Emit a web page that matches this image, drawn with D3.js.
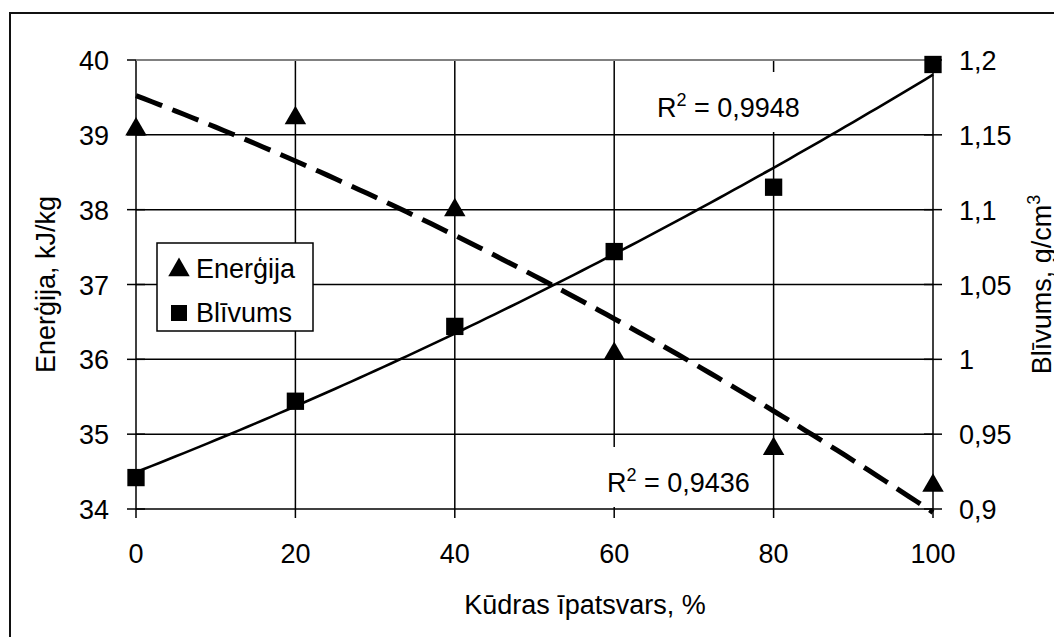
<!DOCTYPE html>
<html>
<head>
<meta charset="utf-8">
<script src="https://cdn.jsdelivr.net/npm/d3@7"></script>
<style>
  body { margin: 0; background: #fff; }
  text { font-family: "Liberation Sans", Arial, sans-serif; fill: #000; }
</style>
</head>
<body>
<script>
// data
var share = [0, 20, 40, 60, 80, 100];              // Kūdras īpatsvars, %
var energy = [39.1, 39.25, 38.02, 36.1, 34.83, 34.34];   // kJ/kg
var density = [0.921, 0.972, 1.022, 1.072, 1.115, 1.197]; // g/cm3

var xTicks = [0, 20, 40, 60, 80, 100];
var leftTicks = [34, 35, 36, 37, 38, 39, 40];
var rightTicks = [0.9, 0.95, 1, 1.05, 1.1, 1.15, 1.2];
var rightTickLabels = ["0,9", "0,95", "1", "1,05", "1,1", "1,15", "1,2"];
var r2Energy = "0,9436";
var r2Density = "0,9948";

var W = 1054, H = 637;
var fs = 27;

var svg = d3.select("body").append("svg")
  .attr("width", W).attr("height", H)
  .attr("xmlns", "http://www.w3.org/2000/svg");

var x = d3.scaleLinear().domain([0, 100]).range([136, 933]);
var yL = d3.scaleLinear().domain([34, 40]).range([509, 60]);
var yR = d3.scaleLinear().domain([0.9, 1.2]).range([509, 60]);

// outer chart border (runs off right/bottom edge)
svg.append("rect")
  .attr("x", 10).attr("y", 13).attr("width", W + 20).attr("height", H + 20)
  .attr("fill", "#fff").attr("stroke", "#111").attr("stroke-width", 2);

// gridlines
var g = svg.append("g").attr("stroke", "#000").attr("stroke-width", 1.5);
leftTicks.slice(0, -1).forEach(function(v) {
  g.append("line").attr("x1", x(0)).attr("x2", x(100)).attr("y1", yL(v)).attr("y2", yL(v));
});
xTicks.forEach(function(v) {
  g.append("line").attr("x1", x(v)).attr("x2", x(v)).attr("y1", yL(40)).attr("y2", yL(34) + 9);
});
// top edge of plot area is grey
svg.append("line").attr("x1", x(0)).attr("x2", x(100)).attr("y1", yL(40)).attr("y2", yL(40))
  .attr("stroke", "#808080").attr("stroke-width", 2);
// axis tick marks crossing the y axes
leftTicks.forEach(function(v) {
  g.append("line").attr("x1", x(0) - 9).attr("x2", x(0) + 9).attr("y1", yL(v)).attr("y2", yL(v));
});
rightTicks.forEach(function(v) {
  g.append("line").attr("x1", x(100) - 9).attr("x2", x(100) + 9).attr("y1", yR(v)).attr("y2", yR(v));
});

// 2nd order polynomial trend (least squares)
function polyFit(xs, ys) {
  var n = xs.length, s = [0, 0, 0, 0, 0], t = [0, 0, 0];
  for (var i = 0; i < n; i++) {
    var p = 1;
    for (var k = 0; k < 5; k++) { s[k] += p; if (k < 3) t[k] += p * ys[i]; p *= xs[i]; }
  }
  var A = [[s[0], s[1], s[2], t[0]], [s[1], s[2], s[3], t[1]], [s[2], s[3], s[4], t[2]]];
  for (var c = 0; c < 3; c++) {
    for (var r = c + 1; r < 3; r++) {
      var f = A[r][c] / A[c][c];
      for (var j = c; j < 4; j++) A[r][j] -= f * A[c][j];
    }
  }
  var b = [0, 0, 0];
  for (var r2 = 2; r2 >= 0; r2--) {
    var sum = A[r2][3];
    for (var j2 = r2 + 1; j2 < 3; j2++) sum -= A[r2][j2] * b[j2];
    b[r2] = sum / A[r2][r2];
  }
  return function(v) { return b[0] + b[1] * v + b[2] * v * v; };
}
var fitE = polyFit(share, energy);
var fitD = polyFit(share, density);
var xs = d3.range(0, 100.01, 1);

svg.append("path")
  .attr("d", d3.line().x(function(d) { return x(d); }).y(function(d) { return yR(fitD(d)); })(xs))
  .attr("fill", "none").attr("stroke", "#000").attr("stroke-width", 2.6);
svg.append("path")
  .attr("d", d3.line().x(function(d) { return x(d); }).y(function(d) { return yL(fitE(d)); })(xs))
  .attr("fill", "none").attr("stroke", "#000").attr("stroke-width", 5)
  .attr("stroke-dasharray", "28,11");

// markers
var tri = d3.symbol().type(d3.symbolTriangle).size(200);
var sq = d3.symbol().type(d3.symbolSquare).size(300);
svg.selectAll(".e").data(share).enter().append("path")
  .attr("d", tri)
  .attr("transform", function(d, i) { return "translate(" + x(d) + "," + (yL(energy[i]) + 2) + ")"; })
  .attr("fill", "#000");
svg.selectAll(".d").data(share).enter().append("path")
  .attr("d", sq)
  .attr("transform", function(d, i) { return "translate(" + x(d) + "," + yR(density[i]) + ")"; })
  .attr("fill", "#000");

// tick labels
svg.selectAll(".lt").data(leftTicks).enter().append("text")
  .attr("x", 109).attr("y", function(d) { return yL(d) + 10; })
  .attr("text-anchor", "end").attr("font-size", fs).text(function(d) { return d; });
svg.selectAll(".rt").data(rightTicks).enter().append("text")
  .attr("x", 959).attr("y", function(d) { return yR(d) + 10; })
  .attr("font-size", fs).text(function(d, i) { return rightTickLabels[i]; });
svg.selectAll(".xt").data(xTicks).enter().append("text")
  .attr("x", function(d) { return x(d); }).attr("y", 563)
  .attr("text-anchor", "middle").attr("font-size", fs).text(function(d) { return d; });

// axis titles
svg.append("text").attr("x", 585).attr("y", 614).attr("text-anchor", "middle")
  .attr("font-size", fs).text("Kūdras īpatsvars, %");
svg.append("text").attr("transform", "translate(55,284.5) rotate(-90)")
  .attr("text-anchor", "middle").attr("font-size", fs).text("Enerģija, kJ/kg");
var rt = svg.append("text").attr("transform", "translate(1051,284.5) rotate(-90)")
  .attr("text-anchor", "middle").attr("font-size", fs);
rt.append("tspan").text("Blīvums, g/cm");
rt.append("tspan").attr("font-size", 18).attr("dy", -11).text("3");

// R² labels with white boxes
function r2Label(xl, yc, val) {
  svg.append("rect").attr("x", xl - 6).attr("y", yc - 35).attr("width", 162).attr("height", 60)
    .attr("fill", "#fff");
  var t = svg.append("text").attr("x", xl).attr("y", yc + 10).attr("font-size", fs);
  t.append("tspan").text("R");
  t.append("tspan").attr("font-size", 18).attr("dy", -11).text("2");
  t.append("tspan").attr("dy", 11).text(" = " + val);
}
r2Label(657, 107, r2Density);
r2Label(607, 482, r2Energy);

// legend
var lg = svg.append("g");
lg.append("rect").attr("x", 157).attr("y", 243).attr("width", 156).attr("height", 88)
  .attr("fill", "#fff").attr("stroke", "#000").attr("stroke-width", 1.5);
lg.append("path").attr("d", tri).attr("transform", "translate(179,270)").attr("fill", "#000");
lg.append("path").attr("d", d3.symbol().type(d3.symbolSquare).size(256))
  .attr("transform", "translate(179,313)").attr("fill", "#000");
lg.append("text").attr("x", 196).attr("y", 278).attr("font-size", fs).text("Enerģija");
lg.append("text").attr("x", 196).attr("y", 322).attr("font-size", fs).text("Blīvums");
</script>
</body>
</html>
